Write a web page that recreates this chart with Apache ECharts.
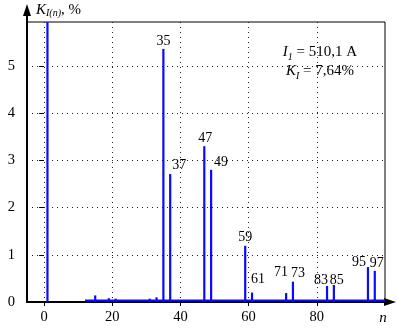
<!DOCTYPE html>
<html>
<head>
<meta charset="utf-8">
<script src="https://cdn.jsdelivr.net/npm/echarts@6/dist/echarts.min.js"></script>
<style>
  html, body { margin: 0; padding: 0; background: #fff; }
  #chart { width: 398px; height: 328px; }
</style>
</head>
<body>
<div id="chart"></div>
<script>
// harmonic numbers and their levels, % of fundamental
const harmonics = [1, 15, 19, 21, 31, 33, 35, 37, 47, 49, 59, 61, 71, 73, 83, 85, 95, 97];
const levels = [100, 0.14, 0.08, 0.07, 0.07, 0.1, 5.36, 2.71, 3.3, 2.8, 1.19, 0.2, 0.19, 0.43, 0.34, 0.36, 0.74, 0.66];
const labelled = [35, 37, 47, 49, 59, 61, 71, 73, 83, 85, 95, 97];
// the thin trace along the floor
const floorN = [12, 100];
const floorLevel = [0.03, 0.03];

const xTicks = [0, 20, 40, 60, 80];
const yTicks = [0, 1, 2, 3, 4, 5];

const font = 'Liberation Serif';
const blue = '#0a0aff';

// hand placed label nudges, like in the original figure
const labelOffsets = {
  35: [0, 0], 37: [9, -1], 47: [1, 0], 49: [10, 1], 59: [0, 0], 61: [6, -5],
  71: [-5, -13], 73: [5, 0], 83: [-6, 2], 85: [3, 3], 95: [-9, 3], 97: [2, 0]
};

const barData = harmonics.map((n, i) => {
  const show = labelled.indexOf(n) >= 0;
  return {
    value: [n, levels[i]],
    label: show ? { show: true, offset: labelOffsets[n] } : { show: false }
  };
});

const chart = echarts.init(document.getElementById('chart'));

const dotted = { type: [1, 4], color: '#222', width: 1 };

const option = {
  animation: false,
  grid: [
    { left: 27, top: 22, right: 13, bottom: 26, show: true, borderColor: '#000', borderWidth: 1 },
    { left: 27, top: 10, right: 8, bottom: 26 }
  ],
  xAxis: [
    {
      gridIndex: 0, type: 'value', min: -5, max: 100,
      axisLine: { show: false },
      axisTick: { show: true, customValues: xTicks, length: 4, lineStyle: { color: '#000' } },
      axisLabel: { customValues: xTicks, fontFamily: font, fontSize: 14.5, color: '#000', margin: 8 },
      splitLine: { show: true, lineStyle: dotted }
    },
    {
      gridIndex: 1, type: 'value', min: 0, max: 1,
      axisLine: { show: true, symbol: ['none', 'triangle'], symbolSize: [8, 12], lineStyle: { color: '#000', width: 2 } },
      axisTick: { show: false }, axisLabel: { show: false }, splitLine: { show: false }
    }
  ],
  yAxis: [
    {
      gridIndex: 0, type: 'value', min: 0, max: 5.93,
      axisLine: { show: false },
      axisTick: { show: true, customValues: yTicks, length: 5, lineStyle: { color: '#000' } },
      axisLabel: { customValues: yTicks, fontFamily: font, fontSize: 14.5, color: '#000', margin: 12 },
      splitLine: { show: true, lineStyle: dotted }
    },
    {
      gridIndex: 1, type: 'value', min: 0, max: 1,
      axisLine: { show: true, symbol: ['none', 'triangle'], symbolSize: [8, 12], lineStyle: { color: '#000', width: 2 } },
      axisTick: { show: false }, axisLabel: { show: false }, splitLine: { show: false }
    }
  ],
  graphic: [
    {
      type: 'text', left: 36, top: 3,
      style: {
        text: '{k|K}{s|I(n)}{t|, %}',
        rich: {
          k: { fontFamily: font, fontStyle: 'italic', fontSize: 15, fill: '#000' },
          s: { fontFamily: font, fontStyle: 'italic', fontSize: 10, fill: '#000', padding: [6, 0, 0, 0] },
          t: { fontFamily: font, fontSize: 15, fill: '#000' }
        }
      }
    },
    {
      type: 'text', x: 383, y: 318,
      style: { text: 'n', fontFamily: font, fontStyle: 'italic', fontSize: 15, fill: '#000', align: 'center', verticalAlign: 'middle' }
    },
    {
      type: 'text', x: 320, y: 62,
      style: {
        text: '{i|I}{s|1}{t| = 510,1 A}\n{i|K}{s|I}{t| = 7,64%}',
        align: 'center', verticalAlign: 'middle',
        rich: {
          i: { fontFamily: font, fontStyle: 'italic', fontSize: 15, fill: '#000' },
          s: { fontFamily: font, fontStyle: 'italic', fontSize: 10, fill: '#000', padding: [9, 0, 0, 0] },
          t: { fontFamily: font, fontSize: 15, fill: '#000' }
        }
      }
    }
  ],
  series: [
    {
      type: 'line', xAxisIndex: 0, yAxisIndex: 0,
      data: floorN.map((n, i) => [n, floorLevel[i]]),
      symbol: 'none', lineStyle: { color: blue, width: 2 }, z: 3
    },
    {
      type: 'bar', xAxisIndex: 0, yAxisIndex: 0,
      data: barData, barWidth: 2.2,
      itemStyle: { color: blue },
      label: {
        position: 'top', distance: 1, fontFamily: font, fontSize: 14, color: '#000',
        formatter: (p) => String(p.value[0])
      },
      z: 4
    }
  ]
};

chart.setOption(option);
</script>
</body>
</html>
